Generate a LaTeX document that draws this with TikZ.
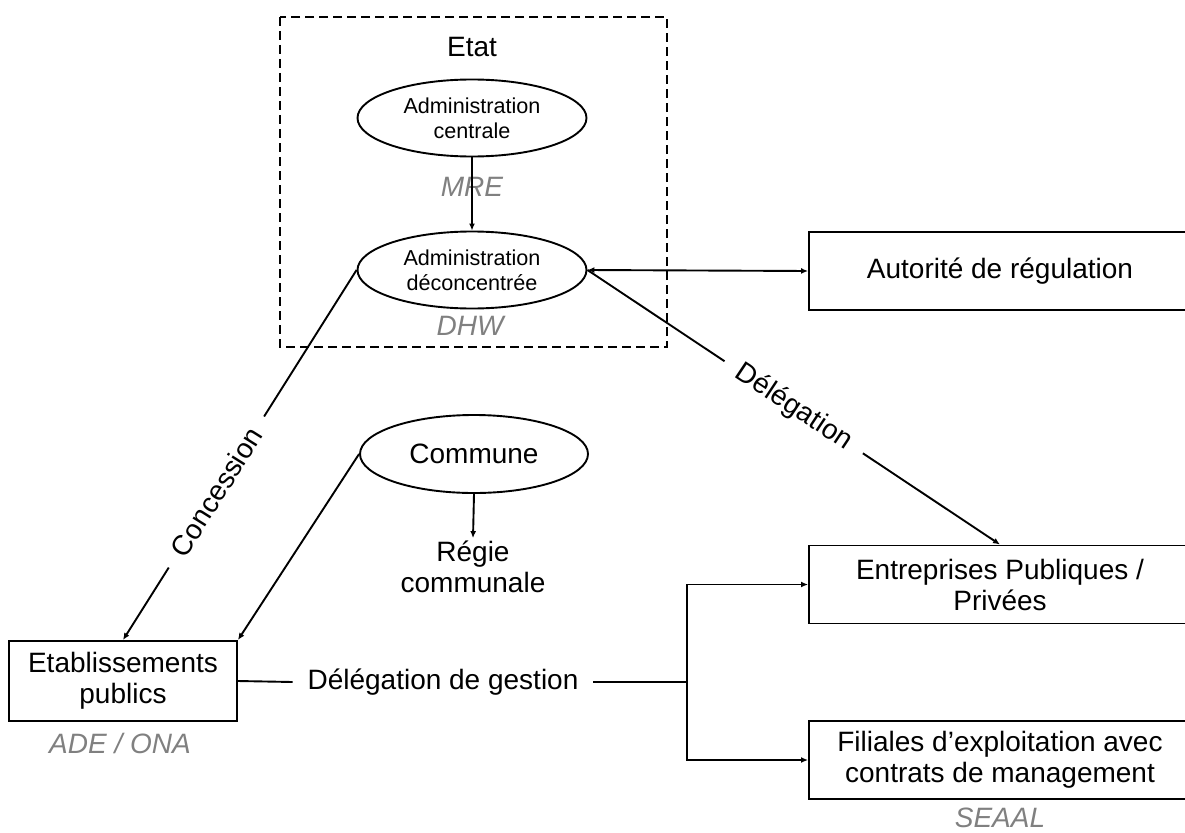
\documentclass[tikz,border=0pt]{standalone}
\usepackage{fontspec}
\setmainfont{Liberation Sans}
\usetikzlibrary{shapes.geometric,arrows.meta}
\definecolor{siglegris}{RGB}{128,128,128}
\tikzset{
  boite/.style={draw,rectangle,minimum width=382pt,minimum height=78pt,align=center,inner sep=0pt},
  ovale/.style={draw,ellipse,minimum width=229pt,minimum height=77pt,align=center,inner sep=0pt},
  sigle/.style={text=siglegris,font=\fontsize{28}{31}\selectfont\itshape},
  fleche/.style={-{Latex[length=7pt,width=6pt]}},
  dfleche/.style={{Latex[length=7pt,width=6pt]}-{Latex[length=7pt,width=6pt]}},
  etiq/.style={sloped,fill=white,inner xsep=16pt,inner ysep=4pt}
}
\begin{document}
\begin{tikzpicture}[x=1pt,y=-1pt,line width=1.9pt,font=\fontsize{28}{31}\selectfont]
\useasboundingbox (0,0) rectangle (1185,832);
\clip (0,0) rectangle (1185,832);
% Organisation du service de l'eau
\draw[dashed,line width=1.5pt,dash pattern=on 9pt off 5pt] (280,17) rectangle (667,347);
\node (etat) at (472,47) {Etat};
\node[ovale,font=\fontsize{21.6}{25}\selectfont] (centrale) at (472,118) {Administration\\centrale};
\node[sigle] (mre) at (472,187) {MRE};
\node[ovale,font=\fontsize{21.6}{25}\selectfont] (admdec) at (472,270) {Administration\\déconcentrée};
\node[sigle] (dhw) at (470,326) {DHW};
\node[boite] (autorite) at (1000,271) {Autorité de régulation};
\node[ovale,minimum width=228pt,minimum height=78pt] (commune) at (474,454) {Commune};
\node[align=center,inner sep=2pt] (regie) at (473,567) {Régie\\communale};
\node[draw,minimum width=228pt,minimum height=80pt,align=center,inner sep=0pt] (etab) at (123,681) {Etablissements\\publics};
\node[sigle] (ade) at (120,743) {ADE / ONA};
\node[inner xsep=14pt] (gestion) at (443,682) {Délégation de gestion};
\node[boite] (entreprises) at (1000,584.5) {Entreprises Publiques /\\Privées};
\node[boite] (filiales) at (1000,760) {Filiales d’exploitation avec\\contrats de management};
\node[sigle] (seaal) at (1000,818) {SEAAL};
\coordinate (fourche) at (687,682);
\draw[fleche] (centrale.south) -- (admdec.north);
\draw[dfleche] (admdec.east) -- (autorite.west);
\draw[fleche] (admdec.east) -- node[etiq,midway] {Délégation} (entreprises.north);
\draw[fleche] (admdec.west) -- node[etiq,pos=0.6] {Concession} (etab.north);
\draw[fleche] (commune.west) -- (etab.north east);
\draw[fleche] (commune.south) -- (regie.north);
\draw (etab.east) -- (gestion.west);
\draw (gestion.east) -- (fourche);
\draw[fleche] (fourche) |- (entreprises.west);
\draw[fleche] (fourche) |- (filiales.west);
\end{tikzpicture}
\end{document}
